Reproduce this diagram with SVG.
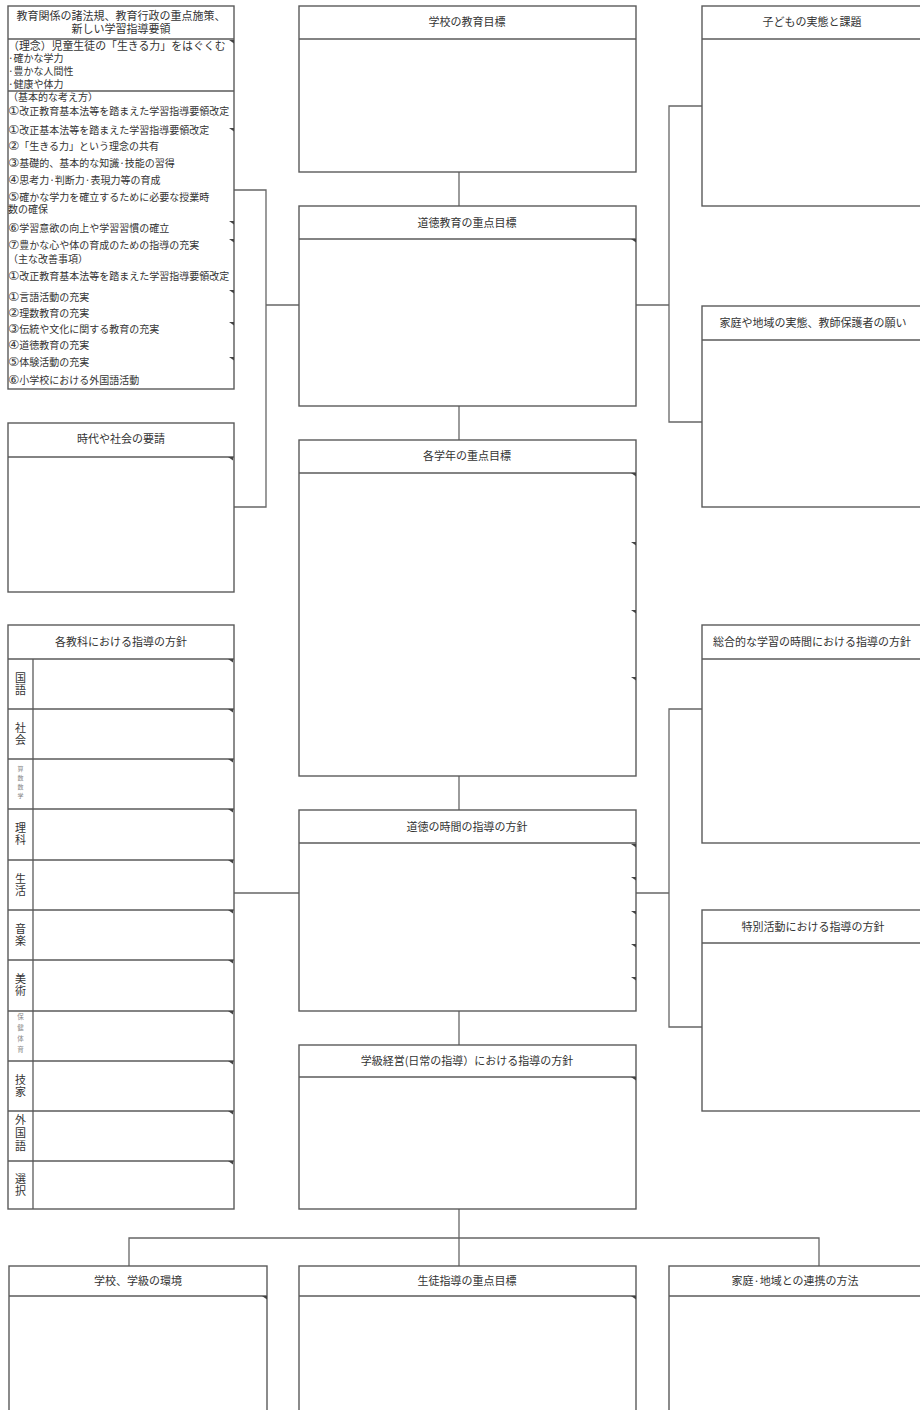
<svg xmlns="http://www.w3.org/2000/svg" width="920" height="1410" viewBox="0 0 920 1410">
<defs>
<style>
.bx{fill:#fff;stroke:#5a5a5a;stroke-width:1.4}
.ln{stroke:#5a5a5a;stroke-width:1.3;fill:none}
.cn{stroke:#666;stroke-width:1.3;fill:none}
.t{font-family:"Noto Sans CJK JP","Noto Sans",sans-serif;fill:#333}
.h{font-size:11px;text-anchor:middle}
.l{font-size:10px}
.d{font-family:"DejaVu Sans",sans-serif;font-size:12.5px}
.v{font-size:11px;text-anchor:middle;writing-mode:vertical-rl;letter-spacing:1px}
.s{font-size:6px;text-anchor:middle;fill:#888;writing-mode:vertical-rl;letter-spacing:3px}
.tk{fill:#444}
</style>
<path id="tk" class="tk" d="M-5,0 L0,0 L0,3.5 Z"/>
</defs>
<rect width="920" height="1410" fill="#fff"/>

<g id="connectors">
<path class="cn" d="M234,190 H266 V507 H234"/>
<path class="cn" d="M266,305 H299"/>
<path class="cn" d="M636,305 H669"/>
<path class="cn" d="M702,106 H669 V422 H702"/>
<path class="cn" d="M459,172 V206"/>
<path class="cn" d="M459,406 V440"/>
<path class="cn" d="M459,776 V810"/>
<path class="cn" d="M459,1011 V1045"/>
<path class="cn" d="M234,893 H299"/>
<path class="cn" d="M636,893 H669"/>
<path class="cn" d="M702,709 H669 V1027 H702"/>
<path class="cn" d="M459,1209 V1266"/>
<path class="cn" d="M129,1266 V1238 H819 V1266"/>
</g>

<g id="node-laws">
<rect class="bx" x="8" y="6" width="226" height="383"/>
<line class="ln" x1="8" y1="39" x2="234" y2="39"/>
<line class="ln" x1="8" y1="91" x2="234" y2="91"/>
<text class="t h" x="121" y="19.5">教育関係の諸法規、教育行政の重点施策、</text>
<text class="t h" x="121" y="33">新しい学習指導要領</text>
<text class="t" x="8" y="49.5" font-size="10.9">（理念）児童生徒の「生きる力」をはぐくむ</text>
<text class="t l" x="8" y="62">·確かな学力</text>
<text class="t l" x="8" y="75">·豊かな人間性</text>
<text class="t l" x="8" y="88">·健康や体力</text>
<text class="t l" x="8" y="101">（基本的な考え方）</text>
<text class="t l" x="8" y="115"><tspan class="d">①</tspan>改正教育基本法等を踏まえた学習指導要領改定</text>
<text class="t l" x="8" y="134"><tspan class="d">①</tspan>改正基本法等を踏まえた学習指導要領改定</text>
<text class="t l" x="8" y="150"><tspan class="d">②</tspan>「生きる力」という理念の共有</text>
<text class="t l" x="8" y="167"><tspan class="d">③</tspan>基礎的、基本的な知識·技能の習得</text>
<text class="t l" x="8" y="184"><tspan class="d">④</tspan>思考力·判断力·表現力等の育成</text>
<text class="t l" x="8" y="200.5"><tspan class="d">⑤</tspan>確かな学力を確立するために必要な授業時</text>
<text class="t l" x="8" y="213">数の確保</text>
<text class="t l" x="8" y="232"><tspan class="d">⑥</tspan>学習意欲の向上や学習習慣の確立</text>
<text class="t l" x="8" y="249"><tspan class="d">⑦</tspan>豊かな心や体の育成のための指導の充実</text>
<text class="t l" x="8" y="263">（主な改善事項）</text>
<text class="t l" x="8" y="280"><tspan class="d">①</tspan>改正教育基本法等を踏まえた学習指導要領改定</text>
<text class="t l" x="8" y="301"><tspan class="d">①</tspan>言語活動の充実</text>
<text class="t l" x="8" y="317"><tspan class="d">②</tspan>理数教育の充実</text>
<text class="t l" x="8" y="333"><tspan class="d">③</tspan>伝統や文化に関する教育の充実</text>
<text class="t l" x="8" y="349"><tspan class="d">④</tspan>道徳教育の充実</text>
<text class="t l" x="8" y="366"><tspan class="d">⑤</tspan>体験活動の充実</text>
<text class="t l" x="8" y="384"><tspan class="d">⑥</tspan>小学校における外国語活動</text>
<use href="#tk" x="234" y="40"/>
<use href="#tk" x="234" y="128"/>
<use href="#tk" x="234" y="221"/>
<use href="#tk" x="234" y="239"/>
<use href="#tk" x="234" y="290"/>
<use href="#tk" x="234" y="322"/>
<use href="#tk" x="234" y="357"/>
</g>

<g id="node-society">
<rect class="bx" x="8" y="423" width="226" height="169"/>
<line class="ln" x1="8" y1="457" x2="234" y2="457"/>
<text class="t h" x="121" y="443">時代や社会の要請</text>
<use href="#tk" x="233" y="457"/>
</g>

<g id="node-subjects">
<rect class="bx" x="8" y="625" width="226" height="584"/>
<line class="ln" x1="8" y1="659" x2="234" y2="659"/>
<line class="ln" x1="33" y1="659" x2="33" y2="1209"/>
<g class="ln">
<line x1="8" y1="709" x2="234" y2="709"/>
<line x1="8" y1="759" x2="234" y2="759"/>
<line x1="8" y1="809" x2="234" y2="809"/>
<line x1="8" y1="860" x2="234" y2="860"/>
<line x1="8" y1="910" x2="234" y2="910"/>
<line x1="8" y1="960" x2="234" y2="960"/>
<line x1="8" y1="1011" x2="234" y2="1011"/>
<line x1="8" y1="1061" x2="234" y2="1061"/>
<line x1="8" y1="1111" x2="234" y2="1111"/>
<line x1="8" y1="1161" x2="234" y2="1161"/>
</g>
<text class="t h" x="121" y="646">各教科における指導の方針</text>
<text class="t v" x="20.5" y="684">国語</text>
<text class="t v" x="20.5" y="734">社会</text>
<text class="t s" x="20.5" y="784">算数数学</text>
<text class="t v" x="20.5" y="834">理科</text>
<text class="t v" x="20.5" y="885">生活</text>
<text class="t v" x="20.5" y="935">音楽</text>
<text class="t v" x="20.5" y="985">美術</text>
<text class="t s" x="20.5" y="1035" style="font-size:6.5px;letter-spacing:4.5px">保健体育</text>
<text class="t v" x="20.5" y="1086">技家</text>
<text class="t v" x="20.5" y="1134" style="letter-spacing:2px">外国語</text>
<text class="t v" x="20.5" y="1185">選択</text>
<use href="#tk" x="233" y="659"/><use href="#tk" x="233" y="709"/><use href="#tk" x="233" y="759"/>
<use href="#tk" x="233" y="809"/><use href="#tk" x="233" y="860"/><use href="#tk" x="233" y="910"/>
<use href="#tk" x="233" y="960"/><use href="#tk" x="233" y="1011"/><use href="#tk" x="233" y="1061"/>
<use href="#tk" x="233" y="1111"/><use href="#tk" x="233" y="1161"/>
</g>

<g id="node-school-goal">
<rect class="bx" x="299" y="6" width="337" height="166"/>
<line class="ln" x1="299" y1="39" x2="636" y2="39"/>
<text class="t h" x="467" y="26">学校の教育目標</text>
</g>

<g id="node-moral-goal">
<rect class="bx" x="299" y="206" width="337" height="200"/>
<line class="ln" x1="299" y1="239" x2="636" y2="239"/>
<text class="t h" x="467" y="227">道徳教育の重点目標</text>
<use href="#tk" x="636" y="239"/>
</g>

<g id="node-grade-goal">
<rect class="bx" x="299" y="440" width="337" height="336"/>
<line class="ln" x1="299" y1="473" x2="636" y2="473"/>
<text class="t h" x="467" y="460">各学年の重点目標</text>
<use href="#tk" x="636" y="473"/><use href="#tk" x="636" y="542"/>
<use href="#tk" x="636" y="610"/><use href="#tk" x="636" y="677"/>
</g>

<g id="node-moral-time">
<rect class="bx" x="299" y="810" width="337" height="201"/>
<line class="ln" x1="299" y1="843" x2="636" y2="843"/>
<text class="t h" x="467" y="831">道徳の時間の指導の方針</text>
<use href="#tk" x="636" y="844"/><use href="#tk" x="636" y="877"/><use href="#tk" x="636" y="911"/>
<use href="#tk" x="636" y="944"/><use href="#tk" x="636" y="977"/>
</g>

<g id="node-class">
<rect class="bx" x="299" y="1045" width="337" height="164"/>
<line class="ln" x1="299" y1="1077" x2="636" y2="1077"/>
<text class="t h" x="467" y="1065">学級経営(日常の指導）における指導の方針</text>
<use href="#tk" x="636" y="1077"/>
</g>

<g id="node-children">
<rect class="bx" x="702" y="6" width="222" height="200"/>
<line class="ln" x1="702" y1="39" x2="920" y2="39"/>
<text class="t h" x="812" y="26">子どもの実態と課題</text>
</g>

<g id="node-family">
<rect class="bx" x="702" y="306" width="222" height="201"/>
<line class="ln" x1="702" y1="340" x2="920" y2="340"/>
<text class="t h" x="813" y="327">家庭や地域の実態、教師保護者の願い</text>
</g>

<g id="node-integrated">
<rect class="bx" x="702" y="625" width="222" height="218"/>
<line class="ln" x1="702" y1="659" x2="920" y2="659"/>
<text class="t h" x="812" y="646">総合的な学習の時間における指導の方針</text>
</g>

<g id="node-special">
<rect class="bx" x="702" y="910" width="222" height="201"/>
<line class="ln" x1="702" y1="943" x2="920" y2="943"/>
<text class="t h" x="813" y="931">特別活動における指導の方針</text>
</g>

<g id="node-environment">
<rect class="bx" x="9" y="1266" width="258" height="160"/>
<line class="ln" x1="9" y1="1296" x2="267" y2="1296"/>
<text class="t h" x="138" y="1285">学校、学級の環境</text>
<use href="#tk" x="267" y="1296"/>
</g>

<g id="node-guidance">
<rect class="bx" x="299" y="1266" width="337" height="160"/>
<line class="ln" x1="299" y1="1296" x2="636" y2="1296"/>
<text class="t h" x="467" y="1285">生徒指導の重点目標</text>
<use href="#tk" x="636" y="1296"/>
</g>

<g id="node-cooperation">
<rect class="bx" x="669" y="1266" width="255" height="160"/>
<line class="ln" x1="669" y1="1296" x2="920" y2="1296"/>
<text class="t h" x="795" y="1285">家庭·地域との連携の方法</text>
</g>
</svg>
